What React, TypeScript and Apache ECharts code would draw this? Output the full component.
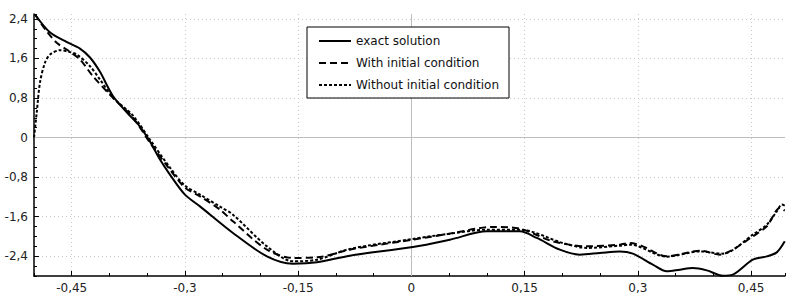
import React, { useEffect, useRef } from "react";
import * as echarts from "echarts";

const xTickValues = [-0.45, -0.3, -0.15, 0, 0.15, 0.3, 0.45];
const yTickValues = [-2.4, -1.6, -0.8, 0, 0.8, 1.6, 2.4];

const exactX = [-0.4987, -0.479, -0.4563, -0.4391, -0.4258, -0.4126, -0.3954, -0.3768, -0.3596, -0.3464, -0.3331, -0.3199, -0.3, -0.2801, -0.2364, -0.1914, -0.157, -0.1252, -0.0815, 0.002, 0.051, 0.1, 0.1437, 0.1662, 0.1967, 0.2232, 0.2497, 0.2762, 0.2934, 0.3199, 0.3384, 0.3556, 0.3728, 0.3914, 0.4126, 0.4258, 0.4523, 0.4709, 0.4841, 0.4947];
const exactY = [2.49, 2.13, 1.93, 1.8, 1.62, 1.33, 0.84, 0.506, 0.223, -0.081, -0.445, -0.749, -1.154, -1.391, -1.929, -2.403, -2.551, -2.524, -2.389, -2.213, -2.065, -1.897, -1.897, -2.03, -2.267, -2.368, -2.334, -2.302, -2.348, -2.571, -2.706, -2.672, -2.638, -2.686, -2.794, -2.773, -2.47, -2.403, -2.322, -2.099];

const withX = [-0.4987, -0.4832, -0.4699, -0.4567, -0.4391, -0.4219, -0.3954, -0.3689, -0.3464, -0.3199, -0.3, -0.2801, -0.2536, -0.2364, -0.1914, -0.157, -0.1252, -0.0815, -0.0417, 0.002, 0.051, 0.1079, 0.1437, 0.1874, 0.2325, 0.2762, 0.2894, 0.3066, 0.3384, 0.3596, 0.3821, 0.4086, 0.4258, 0.4523, 0.4709, 0.4881, 0.4947];
const withY = [2.49, 2.152, 1.917, 1.781, 1.579, 1.241, 0.804, 0.405, -0.101, -0.648, -1.012, -1.188, -1.457, -1.694, -2.267, -2.435, -2.423, -2.267, -2.166, -2.065, -1.943, -1.808, -1.842, -2.099, -2.2, -2.166, -2.132, -2.2, -2.403, -2.348, -2.287, -2.368, -2.267, -1.998, -1.796, -1.423, -1.478];

const withoutX = [-0.5, -0.4964, -0.4921, -0.4854, -0.4788, -0.4656, -0.4567, -0.4434, -0.4258, -0.4126, -0.395, -0.3689, -0.3464, -0.3199, -0.3, -0.2801, -0.2536, -0.2364, -0.1914, -0.157, -0.1252, -0.0815, 0.002, 0.051, 0.1, 0.1437, 0.2007, 0.2325, 0.2762, 0.2894, 0.3384, 0.3821, 0.4126, 0.4523, 0.4709, 0.4841, 0.4907, 0.4947];
const withoutY = [0, 0.506, 1.113, 1.518, 1.68, 1.767, 1.747, 1.68, 1.443, 1.174, 0.804, 0.445, -0.04, -0.607, -0.972, -1.154, -1.397, -1.559, -2.2, -2.504, -2.47, -2.253, -2.051, -1.943, -1.862, -1.862, -2.132, -2.233, -2.186, -2.166, -2.409, -2.302, -2.348, -1.964, -1.761, -1.492, -1.356, -1.377];

const seriesNames = ["exact solution", "With initial condition", "Without initial condition"];

const zip = (xs: number[], ys: number[]) => xs.map((x, i) => [x, ys[i]]);
const fmt = (v: number) => String(Math.round(v * 1000) / 1000).replace(".", ",");

const FONT = "DejaVu Sans";

export default function App() {
  const ref = useRef<HTMLDivElement>(null);
  useEffect(() => {
    if (!ref.current) return;
    const chart = echarts.init(ref.current, null, { renderer: "svg" });
    const gridSplit = { show: true, lineStyle: { color: "#c8c8c8", type: [1, 3] as any, width: 1 } };
    chart.setOption({
      animation: false,
      backgroundColor: "#fff",
      grid: { left: 34, right: 15, top: 14, bottom: 24 },
      legend: {
        orient: "vertical",
        left: 307,
        top: 27,
        backgroundColor: "#fff",
        borderColor: "#000",
        borderWidth: 1,
        borderRadius: 0,
        padding: [7, 10, 6, 11],
        itemGap: 8,
        itemWidth: 32,
        itemHeight: 14,
        itemStyle: { opacity: 0, borderWidth: 0 },
        textStyle: { fontFamily: FONT, fontSize: 12, color: "#111", lineHeight: 14 },
        data: seriesNames,
      },
      xAxis: [
        {
          type: "value",
          min: -0.5,
          max: 0.495,
          axisLine: { show: true, onZero: false, lineStyle: { color: "#000", width: 1.5 } },
          axisTick: { show: true, inside: true, length: 5, customValues: xTickValues, lineStyle: { color: "#000" } },
          axisLabel: { show: true, customValues: xTickValues, formatter: fmt, fontFamily: FONT, fontSize: 12, color: "#222", margin: 6 },
          splitLine: gridSplit,
        },
        {
          type: "value",
          min: -0.5,
          max: 0.495,
          interval: 0.05,
          position: "bottom",
          axisLine: { show: false, onZero: false },
          axisTick: { show: true, inside: true, length: 3, lineStyle: { color: "#000" } },
          axisLabel: { show: false },
          splitLine: { show: false },
        },
      ],
      yAxis: [
        {
          type: "value",
          min: -2.8,
          max: 2.5,
          axisLine: { show: true, onZero: false, lineStyle: { color: "#000", width: 1.5 } },
          axisTick: { show: true, inside: true, length: 5, customValues: yTickValues, lineStyle: { color: "#000" } },
          axisLabel: { show: true, customValues: yTickValues, formatter: fmt, fontFamily: FONT, fontSize: 12, color: "#222", margin: 6 },
          splitLine: gridSplit,
        },
        {
          type: "value",
          min: -2.8,
          max: 2.5,
          interval: 0.2,
          position: "left",
          axisLine: { show: false, onZero: false },
          axisTick: { show: true, inside: true, length: 3, lineStyle: { color: "#000" } },
          axisLabel: { show: false },
          splitLine: { show: false },
        },
      ],
      series: [
        {
          name: seriesNames[0],
          type: "line",
          data: zip(exactX, exactY),
          showSymbol: false,
          symbol: "none",
          smooth: 0.3,
          z: 4,
          lineStyle: { color: "#000", width: 2, type: "solid" },
          itemStyle: { color: "#000" },
          markLine: {
            silent: true,
            symbol: "none",
            z: 1,
            animation: false,
            label: { show: false },
            lineStyle: { color: "#bdbdbd", type: "solid", width: 1 },
            data: [{ xAxis: 0 }, { yAxis: 0 }],
          },
        },
        {
          name: seriesNames[1],
          type: "line",
          data: zip(withX, withY),
          showSymbol: false,
          symbol: "none",
          smooth: 0.3,
          z: 3,
          lineStyle: { color: "#000", width: 2, type: [7, 4] },
          itemStyle: { color: "#000" },
        },
        {
          name: seriesNames[2],
          type: "line",
          data: zip(withoutX, withoutY),
          showSymbol: false,
          symbol: "none",
          smooth: 0.3,
          z: 3,
          lineStyle: { color: "#000", width: 2, type: [3, 2] },
          itemStyle: { color: "#000" },
        },
      ],
    });
    return () => chart.dispose();
  }, []);
  return <div ref={ref} style={{ position: "fixed", left: 0, top: 0, width: 800, height: 300, background: "#fff" }} />;
}
